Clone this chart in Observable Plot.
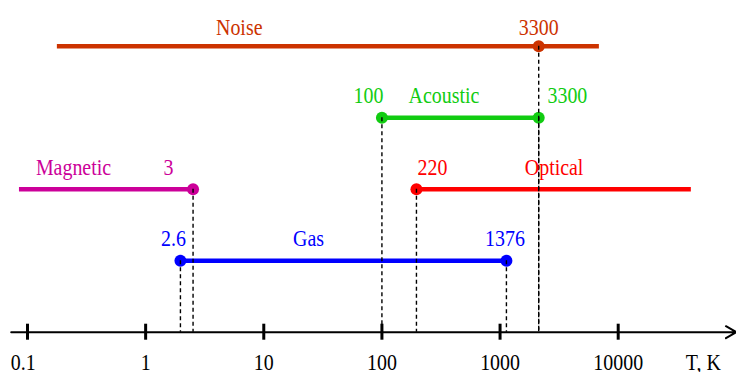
<!DOCTYPE html>
<html><head><meta charset="utf-8">
<script src="https://cdn.jsdelivr.net/npm/d3@7"></script>
<script src="https://cdn.jsdelivr.net/npm/@observablehq/plot@0.6"></script>
<style>
body{margin:0;background:#fff;}
#chart svg text{font-family:"Liberation Serif","Times New Roman",serif;}
</style></head><body><div id="chart"></div>
<script>
// Temperature ranges (K) of thermometry methods
const bands = ["Noise", "Acoustic", "Magnetic", "Optical", "Gas"];
const bandRows = [4, 3, 2, 2, 1];
const bandLow = [0.179, 100, 0.0855, 196, 1.97];
const bandHigh = [6930, 2124, 2.52, 41600, 1132];
const bandColors = ["#CC3300", "#11CC11", "#CC0099", "#FF0000", "#0000FF"];

// endpoint markers
const dotBands = ["Noise", "Acoustic", "Acoustic", "Magnetic", "Optical", "Gas", "Gas"];
const dotTemps = [2124, 100, 2124, 2.52, 196, 1.97, 1132];

// text labels
const labelTexts = ["Noise", "3300", "100", "Acoustic", "3300", "Magnetic", "3", "220", "Optical", "2.6", "Gas", "1376"];
const labelBands = ["Noise", "Noise", "Acoustic", "Acoustic", "Acoustic", "Magnetic", "Magnetic", "Optical", "Optical", "Gas", "Gas", "Gas"];
const labelTemps = [6.2, 2124, 77, 335, 3715, 0.245, 1.56, 268, 2867, 1.72, 23.9, 1100];

// axis
const tickValues = [0.1, 1, 10, 100, 1000, 10000];
const tickLabels = ["0.1", "1", "10", "100", "1000", "10000"];
const tickLabelAt = [0.092, 1, 10, 100, 1000, 10000];
const axisExtent = [0.0728, 100000];
const axisTitle = "T, K";
const axisTitleAt = 52600;

const rowOf = b => bandRows[bands.indexOf(b)];
const ranges = bands.map((b, i) => ({band: b, row: bandRows[i], lo: bandLow[i], hi: bandHigh[i]}));
const dots = dotBands.map((b, i) => ({band: b, row: rowOf(b), t: dotTemps[i]}));
const labels = labelTexts.map((s, i) => ({text: s, band: labelBands[i], row: rowOf(labelBands[i]), t: labelTemps[i]}));

const font = 24;
const serif = "Liberation Serif";
const chart = Plot.plot({
  width: 736,
  height: 372,
  margin: 0,
  x: {type: "log", domain: [0.1, 10000], range: [27, 617.7], axis: null},
  y: {type: "linear", domain: [0, 4], range: [331.7, 45.7], axis: null},
  color: {domain: bands, range: bandColors},
  style: {background: "white", overflow: "visible"},
  marks: [
    Plot.arrow([axisExtent], {x1: d => d[0], x2: d => d[1], y1: () => 0, y2: () => 0, stroke: "black", strokeWidth: 2, headLength: 9, headAngle: 60}),
    Plot.ruleX(tickValues, {x: d => d, y1: () => 0, y2: () => 0, insetTop: -8, insetBottom: -8, stroke: "black", strokeWidth: 3}),
    Plot.text(tickLabels, {x: (d, i) => tickLabelAt[i], y: () => 0, text: d => d, dy: 37.8, lineAnchor: "bottom", fontSize: font, fontFamily: serif, fill: "black"}),
    Plot.text([axisTitle], {x: () => axisTitleAt, y: () => 0, text: d => d, dy: 37.8, lineAnchor: "bottom", fontSize: font, fontFamily: serif, fill: "black"}),
    Plot.ruleY(ranges, {y: "row", x1: "lo", x2: "hi", stroke: "band", strokeWidth: 4.5}),
    Plot.dot(dots, {x: "t", y: "row", r: 6, fill: "band", stroke: null}),
    Plot.ruleX(dots, {x: "t", y1: "row", y2: () => 0, stroke: "black", strokeWidth: 1.4, strokeDasharray: "4,3"}),
    Plot.text(labels.filter(d => d.row === 4), {x: "t", y: "row", text: "text", fill: "band", dy: -11.5, lineAnchor: "bottom", fontSize: font, fontFamily: serif}),
    Plot.text(labels.filter(d => d.row !== 4), {x: "t", y: "row", text: "text", fill: "band", dy: -14.5, lineAnchor: "bottom", fontSize: font, fontFamily: serif})
  ]
});
// narrow the serif glyphs horizontally, keeping each text centred where Plot put it
d3.select(chart).selectAll("text").each(function() {
  const x = parseFloat(this.getAttribute("x")) || 0;
  const t = this.getAttribute("transform") || "";
  this.removeAttribute("x");
  this.setAttribute("transform", `${t} translate(${x},0) scale(0.83,1)`);
});
document.getElementById("chart").appendChild(chart);
</script></body></html>
